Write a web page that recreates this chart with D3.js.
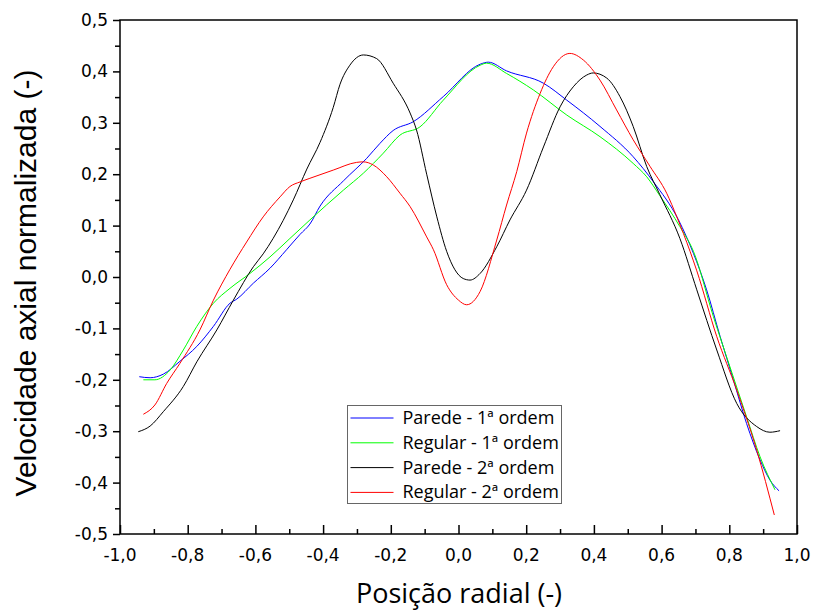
<!DOCTYPE html>
<html>
<head>
<meta charset="utf-8">
<script src="https://cdn.jsdelivr.net/npm/d3@7"></script>
<style>
  body { margin: 0; background: #fff; }
  .tick-lbl { font-family: "DejaVu Sans", Verdana, sans-serif; font-size: 17px; fill: #000; }
  .xtitle { font-family: "Open Sans", "Noto Sans", sans-serif; font-size: 27px; fill: #000; }
  .ytitle { font-family: "Liberation Sans", Arial, sans-serif; font-size: 30px; fill: #000; }
  .leg { font-family: "Open Sans", "Noto Sans", sans-serif; font-size: 18px; fill: #000; }
</style>
</head>
<body>
<div id="chart"></div>
<script>

// data
var blueX = [-0.943,-0.911,-0.872,-0.823,-0.773,-0.724,-0.675,-0.655,-0.606,-0.557,-0.508,-0.468,-0.439,-0.409,-0.340,-0.271,-0.232,-0.193,-0.134,-0.045,0.064,0.088,0.142,0.251,0.320,0.418,0.516,0.576,0.650,0.694,0.733,0.773,0.812,0.851,0.891,0.920,0.947];
var blueY = [-0.194,-0.196,-0.189,-0.164,-0.135,-0.096,-0.051,-0.043,-0.012,0.017,0.053,0.083,0.103,0.138,0.187,0.231,0.260,0.285,0.302,0.351,0.414,0.418,0.401,0.377,0.344,0.293,0.234,0.185,0.111,0.046,-0.025,-0.116,-0.200,-0.285,-0.356,-0.395,-0.416];

var greenX = [-0.931,-0.897,-0.852,-0.813,-0.773,-0.724,-0.675,-0.616,-0.557,-0.498,-0.439,-0.340,-0.281,-0.222,-0.173,-0.114,-0.045,0.064,0.083,0.142,0.221,0.320,0.418,0.516,0.556,0.595,0.654,0.694,0.753,0.802,0.851,0.891,0.935];
var greenY = [-0.200,-0.200,-0.181,-0.142,-0.096,-0.051,-0.022,0.007,0.039,0.075,0.111,0.169,0.202,0.241,0.276,0.292,0.344,0.412,0.416,0.396,0.364,0.315,0.273,0.221,0.195,0.158,0.098,0.050,-0.077,-0.175,-0.272,-0.350,-0.414];

var blackX = [-0.946,-0.911,-0.872,-0.813,-0.773,-0.714,-0.665,-0.606,-0.577,-0.518,-0.488,-0.448,-0.409,-0.370,-0.350,-0.321,-0.281,-0.242,-0.193,-0.143,-0.124,-0.094,-0.064,-0.035,0.014,0.034,0.064,0.113,0.152,0.201,0.251,0.300,0.339,0.379,0.398,0.438,0.477,0.516,0.556,0.595,0.654,0.704,0.763,0.822,0.881,0.920,0.950];
var blackY = [-0.301,-0.290,-0.262,-0.213,-0.165,-0.103,-0.045,0.020,0.045,0.110,0.150,0.210,0.262,0.330,0.375,0.412,0.432,0.425,0.377,0.319,0.286,0.200,0.117,0.050,-0.003,-0.006,0.007,0.059,0.111,0.169,0.253,0.331,0.370,0.393,0.397,0.387,0.351,0.293,0.215,0.160,0.075,-0.025,-0.142,-0.246,-0.291,-0.302,-0.299];

var redX = [-0.931,-0.897,-0.862,-0.823,-0.764,-0.724,-0.675,-0.626,-0.577,-0.527,-0.498,-0.468,-0.439,-0.370,-0.301,-0.281,-0.252,-0.212,-0.173,-0.143,-0.094,-0.074,-0.035,0.000,0.024,0.064,0.113,0.142,0.172,0.201,0.241,0.280,0.329,0.369,0.418,0.467,0.516,0.566,0.615,0.645,0.684,0.704,0.763,0.822,0.881,0.933];
var redY = [-0.267,-0.249,-0.207,-0.168,-0.103,-0.045,0.015,0.068,0.117,0.156,0.176,0.185,0.192,0.208,0.223,0.224,0.218,0.195,0.163,0.137,0.078,0.053,-0.015,-0.045,-0.054,-0.028,0.072,0.140,0.205,0.280,0.357,0.409,0.435,0.422,0.383,0.325,0.267,0.215,0.163,0.117,0.050,0.012,-0.116,-0.220,-0.337,-0.463];

var seriesNames = ["Parede - 1ª ordem", "Regular - 1ª ordem", "Parede - 2ª ordem", "Regular - 2ª ordem"];
var seriesColors = ["#0000ff", "#00ff00", "#000000", "#ff0000"];

var xTicks = [-1.0,-0.8,-0.6,-0.4,-0.2,0.0,0.2,0.4,0.6,0.8,1.0];
var yTicks = [-0.5,-0.4,-0.3,-0.2,-0.1,0.0,0.1,0.2,0.3,0.4,0.5];


    var width = 814, height = 615;
    var margin = { left: 120, right: 797, top: 20, bottom: 534 };

    var x = d3.scaleLinear().domain([-1, 1]).range([margin.left, margin.right]);
    var y = d3.scaleLinear().domain([-0.5, 0.5]).range([margin.bottom, margin.top]);

    var pt = d3.formatLocale({ decimal: ",", thousands: ".", grouping: [3], currency: ["", ""], minus: "-" });
    var fmt = pt.format(".1f");

    var svg = d3.select("#chart")
        .append("svg")
        .attr("width", width)
        .attr("height", height)

    // minor ticks
    var xMinor = d3.range(-0.9, 1.0, 0.2);
    var yMinor = d3.range(-0.45, 0.5, 0.1);

    // x axis - ticks point inwards
    svg.append("g")
        .attr("transform", "translate(0," + margin.bottom + ")")
        .call(d3.axisTop(x).tickValues(xMinor).tickSize(5).tickFormat(""))
        .call(function (g) { g.select(".domain").remove(); })
        .selectAll("line").attr("stroke-width", 1.5)

    var gx = svg.append("g")
        .attr("transform", "translate(0," + margin.bottom + ")")
        .call(d3.axisTop(x).tickValues(xTicks).tickSize(9).tickFormat(""))
    gx.select(".domain").remove();
    gx.selectAll("line").attr("stroke-width", 1.5)

    svg.append("g")
        .selectAll(".xlbl")
        .data(xTicks)
        .enter()
        .append("text")
        .text(function (d) { return fmt(d); })
        .attr("x", function (d) { return x(d); })
        .attr("y", 561)
        .style("text-anchor", "middle")
        .attr("class", "tick-lbl")

    // y axis - ticks point outwards
    svg.append("g")
        .attr("transform", "translate(" + margin.left + ",0)")
        .call(d3.axisLeft(y).tickValues(yMinor).tickSize(5).tickFormat(""))
        .call(function (g) { g.select(".domain").remove(); })
        .selectAll("line").attr("stroke-width", 1.5)

    var gy = svg.append("g")
        .attr("transform", "translate(" + margin.left + ",0)")
        .call(d3.axisLeft(y).tickValues(yTicks).tickSize(7).tickFormat(""))
    gy.select(".domain").remove();
    gy.selectAll("line").attr("stroke-width", 1.5)

    svg.append("g")
        .selectAll(".ylbl")
        .data(yTicks)
        .enter()
        .append("text")
        .text(function (d) { return fmt(d); })
        .attr("x", 108)
        .attr("y", function (d) { return y(d) + 6; })
        .style("text-anchor", "end")
        .attr("class", "tick-lbl")

    // frame
    svg.append("rect")
        .attr("x", margin.left)
        .attr("y", margin.top)
        .attr("width", margin.right - margin.left)
        .attr("height", margin.bottom - margin.top)
        .attr("fill", "none")
        .attr("stroke", "#000")
        .attr("stroke-width", 1.5)

    // lines
    var line = d3.line()
        .x(function (d) { return x(d[0]); })
        .y(function (d) { return y(d[1]); })
        .curve(d3.curveMonotoneX);

    var series = [[blueX, blueY], [greenX, greenY], [blackX, blackY], [redX, redY]];

    svg.append("g")
        .selectAll(".curve")
        .data(series)
        .enter()
        .append("path")
        .attr("d", function (s) { return line(d3.zip(s[0], s[1])); })
        .attr("fill", "none")
        .attr("stroke", function (s, i) { return seriesColors[i]; })
        .attr("stroke-width", 1)
        .attr("class", "curve")

    // legend
    var leg = svg.append("g").attr("transform", "translate(347.5,405.5)");

    leg.append("rect")
        .attr("width", 214)
        .attr("height", 98)
        .attr("fill", "#fff")
        .attr("stroke", "#666")
        .attr("stroke-width", 1)

    leg.selectAll(".legline")
        .data(seriesNames)
        .enter()
        .append("line")
        .attr("x1", 3)
        .attr("x2", 46)
        .attr("y1", function (d, i) { return 12.5 + 24.8 * i; })
        .attr("y2", function (d, i) { return 12.5 + 24.8 * i; })
        .attr("stroke", function (d, i) { return seriesColors[i]; })
        .attr("stroke-width", 1)
        .attr("class", "legline")

    leg.selectAll(".legtext")
        .data(seriesNames)
        .enter()
        .append("text")
        .text(function (d) { return d; })
        .attr("x", 55)
        .attr("y", function (d, i) { return 18.5 + 24.8 * i; })
        .attr("class", "leg")

    // axis titles
    svg.append("text")
        .text("Posição radial (-)")
        .attr("x", 459)
        .attr("y", 603)
        .style("text-anchor", "middle")
        .attr("class", "xtitle")

    svg.append("text")
        .text("Velocidade axial normalizada (-)")
        .attr("transform", "translate(36,283) rotate(-90)")
        .style("text-anchor", "middle")
        .attr("class", "ytitle")

</script>
</body>
</html>
